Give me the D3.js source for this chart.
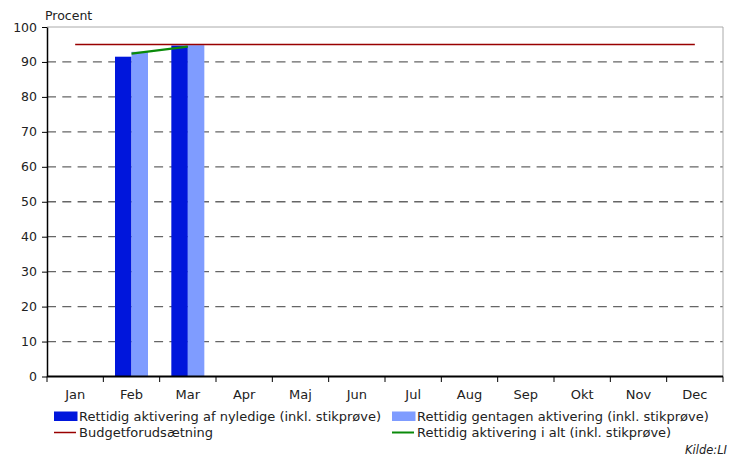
<!DOCTYPE html>
<html>
<head>
<meta charset="utf-8">
<script src="https://cdn.jsdelivr.net/npm/d3@7"></script>
<style>
  body { margin: 0; background: #fff; }
  svg { display: block; font-family: "DejaVu Sans", Verdana, sans-serif; }
</style>
</head>
<body>
<svg id="chart"></svg>
<script>
const width = 737;
const height = 462;
const margin = {top: 27, right: 14, bottom: 85.5, left: 47};

const months = ['Jan', 'Feb', 'Mar', 'Apr', 'Maj', 'Jun', 'Jul', 'Aug', 'Sep', 'Okt', 'Nov', 'Dec'];
const nyledige = [null, 91.5, 94.7, null, null, null, null, null, null, null, null, null];
const gentagen = [null, 92.9, 94.8, null, null, null, null, null, null, null, null, null];
const iAlt = [null, 92.4, 94.4, null, null, null, null, null, null, null, null, null];
const budget = [95, 95, 95, 95, 95, 95, 95, 95, 95, 95, 95, 95];
const yTicks = [0, 10, 20, 30, 40, 50, 60, 70, 80, 90, 100];

const seriesNames = ['Rettidig aktivering af nyledige (inkl. stikprøve)',
    'Rettidig gentagen aktivering (inkl. stikprøve)',
    'Budgetforudsætning',
    'Rettidig aktivering i alt (inkl. stikprøve)'];

const colDark = '#0016dc';
const colLight = '#7f9cff';
const colBudget = '#990000';
const colTotal = '#0a8a0a';
const textCol = '#222';

const svg = d3.select('#chart')
    .attr('width', width)
    .attr('height', height);

const x = d3.scaleBand().domain(months).range([margin.left, width - margin.right]).padding(0);
const xSub = d3.scaleBand().domain(['ny', 'gen']).range([0, x.bandwidth()])
    .paddingInner(0).paddingOuter(0.707);
const y = d3.scaleLinear().domain([0, 100]).range([height - margin.bottom, margin.top]);

// gridlines
svg.append('g')
    .selectAll('line')
    .data(yTicks.filter(t => t > 0 && t < 100))
    .enter()
    .append('line')
    .attr('x1', margin.left)
    .attr('x2', width - margin.right)
    .attr('y1', d => y(d))
    .attr('y2', d => y(d))
    .attr('stroke', '#666')
    .attr('stroke-width', 1.3)
    .attr('stroke-dasharray', '9,6.3');

// top and right border
svg.append('line')
    .attr('x1', margin.left).attr('x2', width - margin.right)
    .attr('y1', y(100)).attr('y2', y(100))
    .attr('stroke', '#aaa');
svg.append('line')
    .attr('x1', width - margin.right).attr('x2', width - margin.right)
    .attr('y1', y(100)).attr('y2', y(0))
    .attr('stroke', '#aaa');

// bars
const barData = [];
months.forEach((m, i) => {
    if (nyledige[i] != null) barData.push({month: m, key: 'ny', value: nyledige[i]});
    if (gentagen[i] != null) barData.push({month: m, key: 'gen', value: gentagen[i]});
});

svg.append('g')
    .selectAll('rect')
    .data(barData)
    .enter()
    .append('rect')
    .attr('x', d => x(d.month) + xSub(d.key))
    .attr('y', d => y(d.value))
    .attr('width', xSub.bandwidth())
    .attr('height', d => y(0) - y(d.value))
    .style('fill', d => d.key === 'ny' ? colDark : colLight);

// budget line
svg.append('path')
    .datum(months.map((m, i) => [m, budget[i]]))
    .attr('fill', 'none')
    .attr('stroke', colBudget)
    .attr('stroke-width', 1.5)
    .attr('d', d3.line()
        .x(d => x(d[0]) + x.bandwidth() / 2)
        .y(d => y(d[1])));

// total line
svg.append('path')
    .datum(months.map((m, i) => [m, iAlt[i]]).filter(d => d[1] != null))
    .attr('fill', 'none')
    .attr('stroke', colTotal)
    .attr('stroke-width', 2.2)
    .attr('d', d3.line()
        .x(d => x(d[0]) + x.bandwidth() / 2)
        .y(d => y(d[1])));

// y axis
const yAxis = svg.append('g')
    .attr('transform', `translate(${margin.left}, 0)`)
    .call(d3.axisLeft(y).tickValues(yTicks).tickSize(5).tickPadding(5).tickSizeOuter(0));
yAxis.select('.domain').attr('stroke', '#000').attr('stroke-width', 1.5);
yAxis.selectAll('.tick line').attr('stroke', '#000');
yAxis.selectAll('text').attr('font-size', 12.5).attr('fill', textCol)
    .attr('font-family', '"DejaVu Sans", Verdana, sans-serif');

// x axis
const xAxis = svg.append('g')
    .attr('transform', `translate(0, ${y(0)})`);
xAxis.append('line')
    .attr('x1', margin.left).attr('x2', width - margin.right)
    .attr('y1', 0).attr('y2', 0)
    .attr('stroke', '#000').attr('stroke-width', 1.8);
xAxis.selectAll('.tk')
    .data(d3.range(months.length + 1))
    .enter()
    .append('line')
    .attr('class', 'tk')
    .attr('x1', i => margin.left + i * x.step())
    .attr('x2', i => margin.left + i * x.step())
    .attr('y1', 0).attr('y2', 5.5)
    .attr('stroke', '#000');
xAxis.selectAll('text')
    .data(months)
    .enter()
    .append('text')
    .attr('x', d => x(d) + x.bandwidth() / 2)
    .attr('y', 22)
    .attr('text-anchor', 'middle')
    .attr('font-size', 13)
    .attr('fill', textCol)
    .text(d => d);

// y label
svg.append('text')
    .attr('x', 45)
    .attr('y', 20)
    .attr('font-size', 12.5)
    .attr('fill', textCol)
    .text('Procent');

// legend
const legend = svg.append('g');
const legendItems = [
    {name: seriesNames[0], type: 'rect', color: colDark, x: 54, y: 416},
    {name: seriesNames[1], type: 'rect', color: colLight, x: 392, y: 416},
    {name: seriesNames[2], type: 'line', color: colBudget, x: 54, y: 432.5},
    {name: seriesNames[3], type: 'line', color: colTotal, x: 392, y: 432.5}
];
legendItems.forEach(d => {
    if (d.type === 'rect') {
        legend.append('rect')
            .attr('x', d.x).attr('y', d.y - 4.5)
            .attr('width', 23.5).attr('height', 9.5)
            .style('fill', d.color);
    } else {
        legend.append('line')
            .attr('x1', d.x).attr('x2', d.x + 22)
            .attr('y1', d.y).attr('y2', d.y)
            .attr('stroke', d.color)
            .attr('stroke-width', d.color === colTotal ? 2 : 1.5);
    }
    legend.append('text')
        .attr('x', d.x + 25)
        .attr('y', d.y + 4.5)
        .attr('font-size', 13)
        .attr('fill', textCol)
        .text(d.name);
});

svg.append('text')
    .attr('x', 727)
    .attr('y', 454)
    .attr('text-anchor', 'end')
    .attr('font-size', 11.5)
    .attr('font-style', 'italic')
    .attr('fill', textCol)
    .text('Kilde:LI');
</script>
</body>
</html>
